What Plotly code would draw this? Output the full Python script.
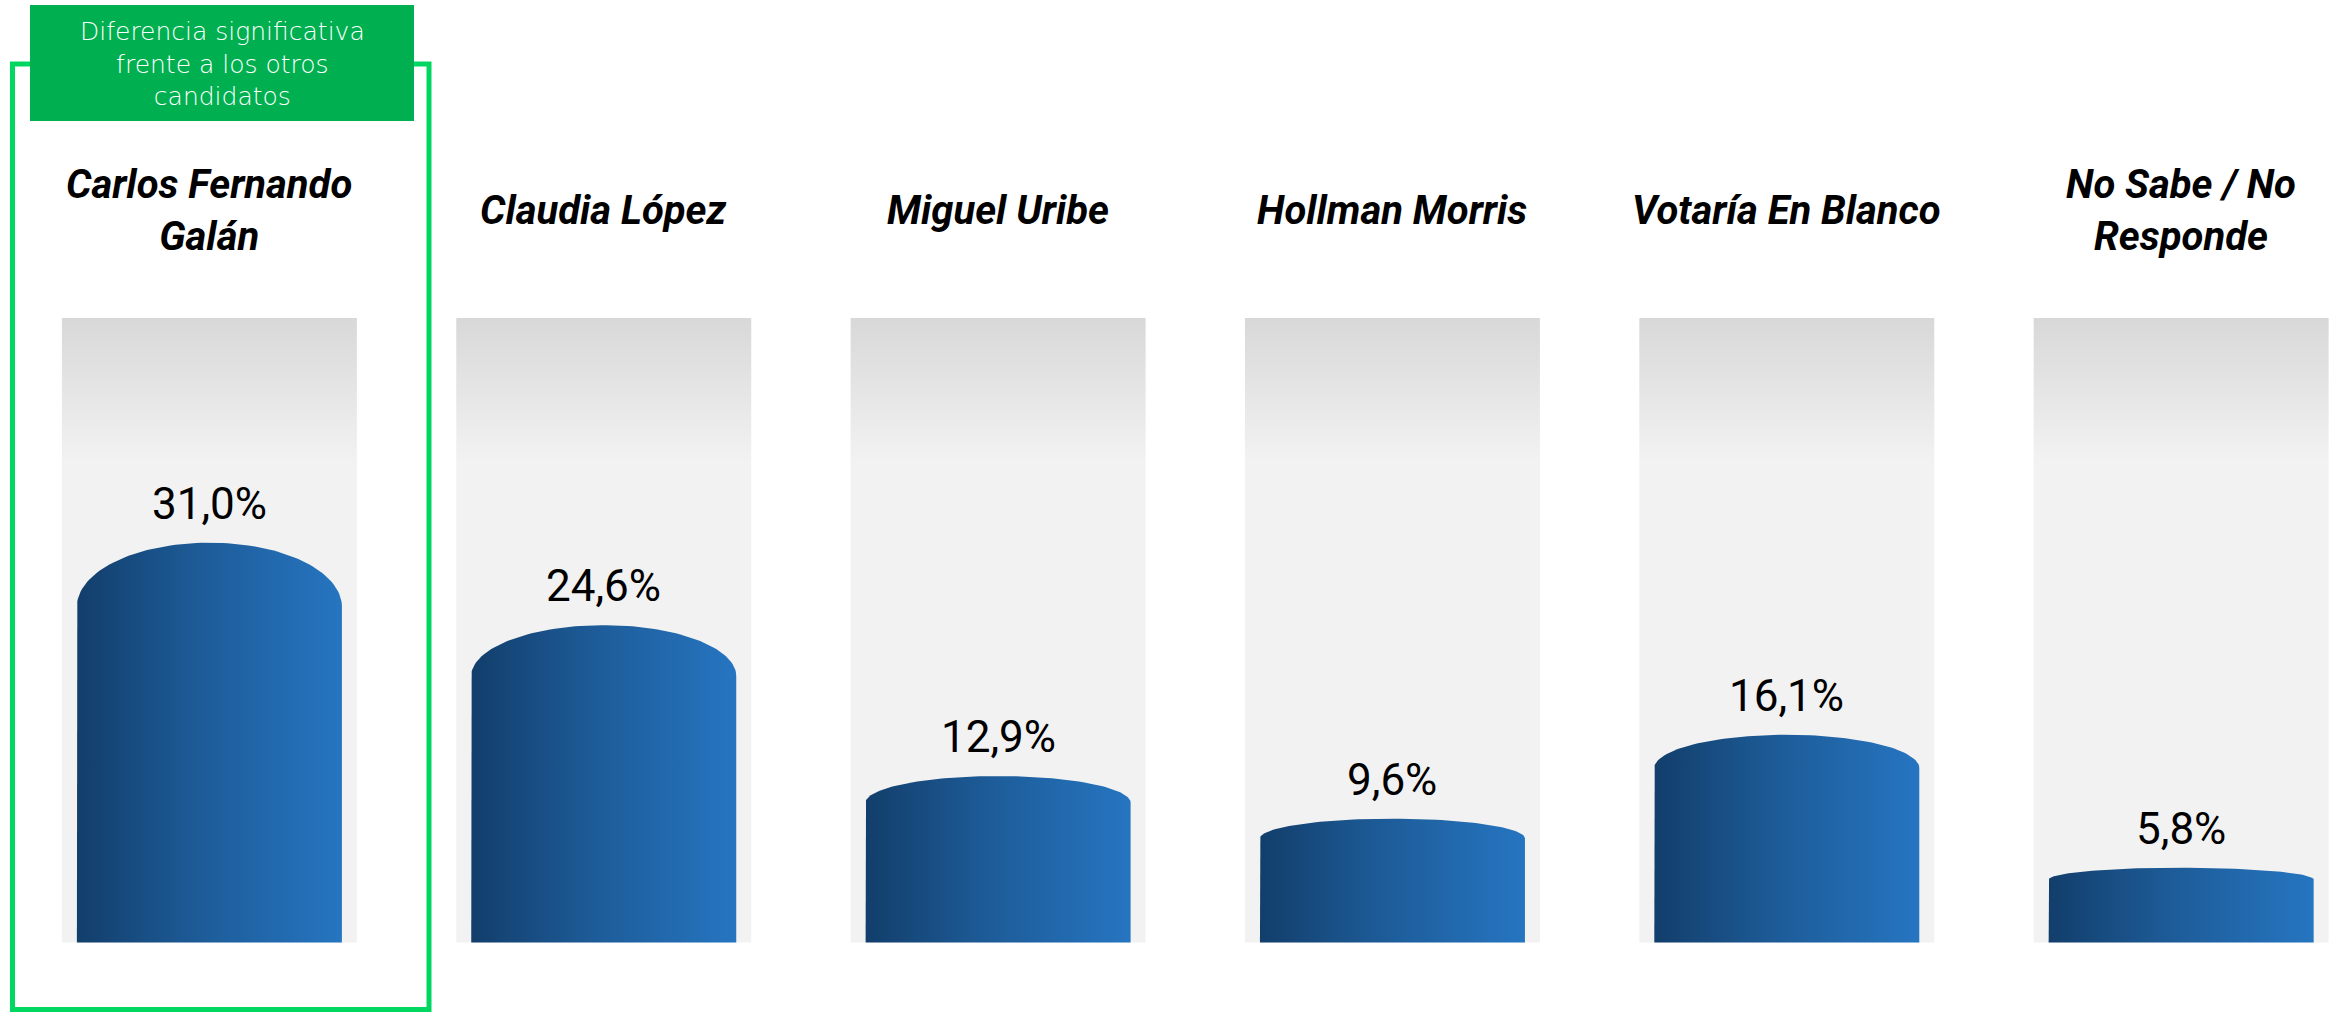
import numpy as np
import plotly.graph_objects as go

# ---------------- data ----------------
categories = ["Carlos Fernando<br>Galán", "Claudia López", "Miguel Uribe",
              "Hollman Morris", "Votaría En Blanco", "No Sabe / No<br>Responde"]
values = [31.0, 24.6, 12.9, 9.6, 16.1, 5.8]
value_labels = ["31,0%", "24,6%", "12,9%", "9,6%", "16,1%", "5,8%"]
background_max = 48.4
highlight_note = "Diferencia significativa<br>frente a los otros<br>candidatos"
highlight_index = 0

# ---------------- style ----------------
W, H = 2331, 1012
BAR_HALF = 0.336
BG_HALF = 0.374
DOME_RATIO = 0.16
LABEL_FONT = "Liberation Sans Narrow, Roboto, Arial Narrow, sans-serif"
BLUE_SCALE = [[0, "#123e6b"], [0.45, "#1d5b97"], [1, "#2675c1"]]
GRAY_SCALE = [[0, "#f2f2f2"], [0.77, "#f2f2f2"], [1, "#d8d8d8"]]

fig = go.Figure()

# background columns
for i, _ in enumerate(categories):
    fig.add_trace(go.Scatter(
        x=[i - BG_HALF, i + BG_HALF, i + BG_HALF, i - BG_HALF, i - BG_HALF],
        y=[0, 0, background_max, background_max, 0],
        mode="lines", fill="toself", line=dict(width=0),
        fillgradient=dict(type="vertical", colorscale=GRAY_SCALE),
        hoverinfo="skip", showlegend=False))

# rounded-top bars
t = np.linspace(np.pi, 0, 80)
for i, v in enumerate(values):
    d = DOME_RATIO * v
    xs = [i - BAR_HALF, i - BAR_HALF] + list(i + BAR_HALF * np.cos(t)) + [i + BAR_HALF, i - BAR_HALF]
    ys = [0, v - d] + list(v - d + d * np.sin(t)) + [0, 0]
    fig.add_trace(go.Scatter(
        x=xs, y=ys, mode="lines", fill="toself", line=dict(width=0),
        fillgradient=dict(type="horizontal", colorscale=BLUE_SCALE),
        hoverinfo="skip", showlegend=False))

# value labels
for i, (v, lab) in enumerate(zip(values, value_labels)):
    fig.add_annotation(x=i, y=v, text=lab, showarrow=False, xanchor="center",
                       yanchor="middle", yshift=39,
                       font=dict(family=LABEL_FONT, size=44, color="#000000"))

# category labels
for i, c in enumerate(categories):
    fig.add_annotation(x=i, xref="x", y=1 - 210 / H, yref="paper", text=c,
                       showarrow=False, xanchor="center", yanchor="middle",
                       font=dict(family=LABEL_FONT, size=40, color="#000000",
                                 weight="bold", style="italic"))

# highlight frame and note
fig.add_shape(type="rect", xref="paper", yref="paper",
              x0=12.5 / W, x1=429 / W, y0=1 - 1009.5 / H, y1=1 - 64 / H,
              line=dict(color="#00d760", width=5), fillcolor="rgba(0,0,0,0)")
fig.add_shape(type="rect", xref="paper", yref="paper",
              x0=30 / W, x1=414 / W, y0=1 - 121 / H, y1=1 - 5 / H,
              line=dict(width=0), fillcolor="#00b050")
fig.add_annotation(x=222 / W, xref="paper", y=1 - 64 / H, yref="paper",
                   text=highlight_note, showarrow=False, xanchor="center",
                   yanchor="middle", align="center",
                   font=dict(family="DejaVu Sans, sans-serif", size=25,
                             color="#ffffff", weight=200))

fig.update_layout(
    width=W, height=H, margin=dict(l=0, r=0, t=0, b=0),
    paper_bgcolor="#ffffff", plot_bgcolor="#ffffff", showlegend=False,
    xaxis=dict(range=[-0.531, 5.380], visible=False, fixedrange=True),
    yaxis=dict(range=[-5.39, 73.06], visible=False, fixedrange=True),
)

fig.write_html("out.html", config={"displayModeBar": False})
